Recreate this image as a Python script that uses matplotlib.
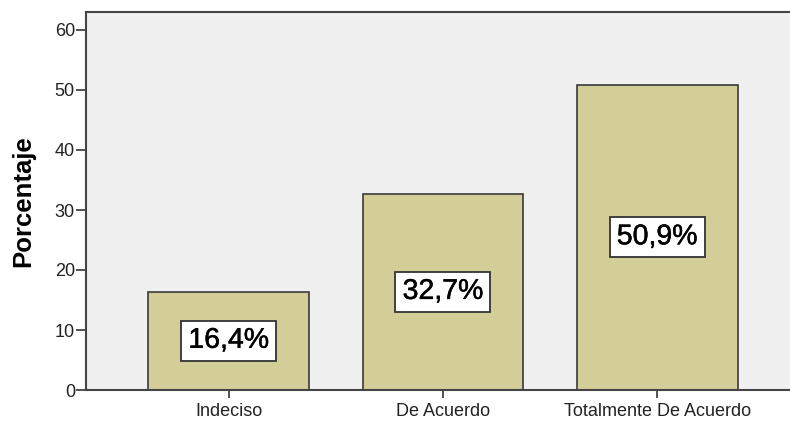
import matplotlib.pyplot as plt
import matplotlib.patheffects as pe
import numpy as np

categories = ["Indeciso", "De Acuerdo", "Totalmente De Acuerdo"]
percentages = [16.4, 32.7, 50.9]
y_ticks = [0, 10, 20, 30, 40, 50, 60]

plt.rcParams['font.family'] = ['Liberation Sans', 'DejaVu Sans']

fig = plt.figure(figsize=(7.9, 4.23), dpi=100)
ax = fig.add_axes([86 / 790, 33 / 423, 1 - 86 / 790, (390 - 12) / 423])
ax.set_facecolor('#f0f0f0')

x = np.arange(len(categories))
ax.bar(x, percentages, width=0.75, color='#d3ce98', edgecolor='#3a3a3a', linewidth=1.2, zorder=2)

# value boxes in the middle of each bar (slightly thickened text like the original)
for xi, v in zip(x, percentages):
    t = ax.text(xi, v / 2, f"{v:.1f}%".replace('.', ','), ha='center', va='center',
                fontsize=20.5, zorder=3,
                bbox=dict(boxstyle='square,pad=0.25', facecolor='white', edgecolor='#333333', linewidth=1.3))
    t.set_path_effects([pe.withStroke(linewidth=0.35, foreground='black')])

ax.set_xlim(-0.666, 2.62)
ax.set_ylim(0, 63)
ax.set_yticks(y_ticks)
ax.set_xticks(x)
ax.set_xticklabels(categories)
ax.tick_params(axis='y', length=7, width=1.2, color='#333333', labelsize=13, labelcolor='#222222', pad=1)
ax.tick_params(axis='x', length=6, width=1.2, color='#333333', labelsize=13, labelcolor='#222222', pad=3)
ax.set_ylabel("Porcentaje", fontsize=18.5, fontweight='bold', labelpad=14)

for s in ['left', 'bottom', 'top']:
    ax.spines[s].set_color('#444444')
    ax.spines[s].set_linewidth(1.5)
ax.spines['right'].set_visible(False)

fig.savefig("out.png", dpi=100)
